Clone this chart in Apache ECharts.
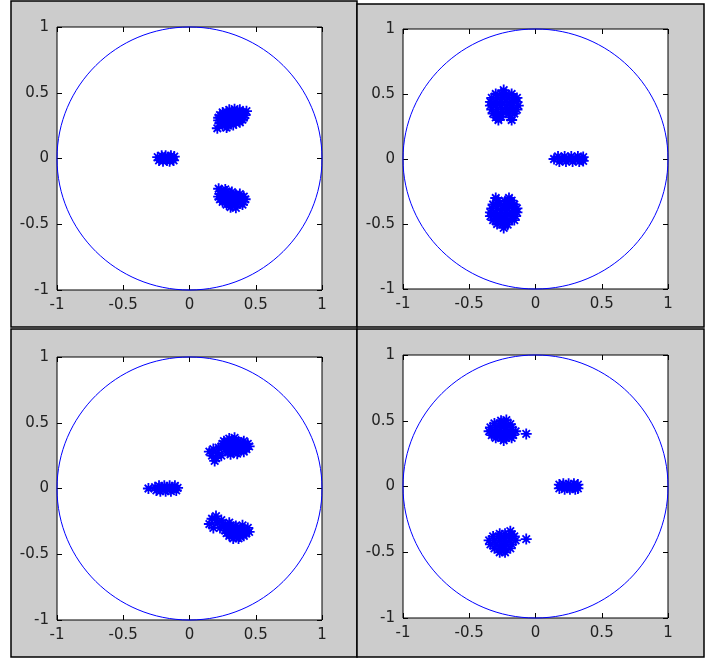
<!DOCTYPE html>
<html>
<head>
<meta charset="utf-8">
<script src="https://cdn.jsdelivr.net/npm/echarts@6/dist/echarts.min.js"></script>
<style>
  html, body { margin: 0; padding: 0; background: #fff; }
  #chart { width: 723px; height: 659px; }
</style>
</head>
<body>
<div id="chart"></div>
<script>
// tick labels shared by every panel
const tickValues = [-1, -0.5, 0, 0.5, 1];

// unit circle: [centre x, centre y, radius]
const unitCircle = [[0, 0, 1]];

// panel 1 (top left)
const panel1Points = [
  // cluster on the real axis
  [-0.24, 0.01], [-0.23, -0.015], [-0.22, 0.0], [-0.21, 0.02], [-0.2, -0.02], [-0.19, 0.0],
  [-0.18, 0.02], [-0.17, -0.015], [-0.16, 0.01], [-0.155, 0.0], [-0.15, -0.02], [-0.14, 0.02],
  [-0.13, 0.0], [-0.12, -0.015], [-0.115, 0.015],
  // upper cluster
  [0.3, 0.37], [0.34, 0.375], [0.38, 0.37],
  [0.25, 0.35], [0.28, 0.355], [0.32, 0.35], [0.36, 0.355], [0.4, 0.35], [0.43, 0.36],
  [0.23, 0.33], [0.27, 0.33], [0.31, 0.335], [0.35, 0.33], [0.39, 0.33], [0.42, 0.33],
  [0.22, 0.31], [0.26, 0.31], [0.3, 0.31], [0.34, 0.31], [0.38, 0.315], [0.41, 0.31],
  [0.22, 0.29], [0.25, 0.29], [0.29, 0.29], [0.33, 0.29], [0.37, 0.29], [0.4, 0.295],
  [0.23, 0.27], [0.27, 0.27], [0.31, 0.27], [0.35, 0.27], [0.38, 0.275],
  [0.25, 0.25], [0.29, 0.25], [0.33, 0.255], [0.21, 0.23], [0.28, 0.235],
  // lower cluster
  [0.22, -0.23], [0.27, -0.235],
  [0.24, -0.25], [0.28, -0.25], [0.32, -0.255],
  [0.23, -0.27], [0.27, -0.27], [0.31, -0.27], [0.35, -0.275], [0.38, -0.27],
  [0.22, -0.29], [0.26, -0.29], [0.3, -0.29], [0.34, -0.29], [0.38, -0.295], [0.41, -0.29],
  [0.23, -0.31], [0.27, -0.31], [0.31, -0.315], [0.35, -0.31], [0.39, -0.31], [0.42, -0.31],
  [0.25, -0.33], [0.29, -0.33], [0.33, -0.335], [0.37, -0.33], [0.41, -0.33],
  [0.28, -0.35], [0.32, -0.355], [0.36, -0.35], [0.4, -0.35],
  [0.31, -0.37], [0.35, -0.375]
];

// panel 2 (top right)
const panel2Points = [
  // upper cluster
  [-0.24, 0.53],
  [-0.3, 0.5], [-0.26, 0.505], [-0.22, 0.5], [-0.18, 0.5],
  [-0.33, 0.47], [-0.29, 0.47], [-0.25, 0.475], [-0.21, 0.47], [-0.17, 0.47], [-0.14, 0.47],
  [-0.34, 0.44], [-0.3, 0.44], [-0.26, 0.44], [-0.22, 0.445], [-0.18, 0.44], [-0.14, 0.44],
  [-0.34, 0.41], [-0.3, 0.41], [-0.26, 0.415], [-0.22, 0.41], [-0.18, 0.41], [-0.13, 0.41],
  [-0.33, 0.38], [-0.29, 0.38], [-0.25, 0.38], [-0.21, 0.385], [-0.17, 0.38], [-0.14, 0.38],
  [-0.32, 0.35], [-0.28, 0.35], [-0.24, 0.355], [-0.2, 0.35], [-0.16, 0.35],
  [-0.3, 0.32], [-0.26, 0.325], [-0.19, 0.32], [-0.28, 0.3], [-0.18, 0.3],
  // lower cluster
  [-0.3, -0.3], [-0.2, -0.3],
  [-0.28, -0.32], [-0.23, -0.325], [-0.18, -0.32],
  [-0.32, -0.35], [-0.28, -0.35], [-0.24, -0.355], [-0.2, -0.35], [-0.16, -0.35],
  [-0.33, -0.38], [-0.29, -0.38], [-0.25, -0.385], [-0.21, -0.38], [-0.17, -0.38], [-0.14, -0.38],
  [-0.34, -0.41], [-0.3, -0.41], [-0.26, -0.41], [-0.22, -0.415], [-0.18, -0.41], [-0.14, -0.41],
  [-0.34, -0.44], [-0.3, -0.44], [-0.26, -0.445], [-0.22, -0.44], [-0.18, -0.44], [-0.15, -0.44],
  [-0.32, -0.47], [-0.28, -0.47], [-0.24, -0.475], [-0.2, -0.47], [-0.16, -0.47],
  [-0.29, -0.5], [-0.25, -0.5], [-0.21, -0.505], [-0.24, -0.53],
  // cluster on the real axis
  [0.14, 0.0], [0.17, 0.02], [0.18, -0.02], [0.2, 0.0], [0.22, 0.02], [0.23, -0.02], [0.25, 0.0],
  [0.27, 0.02], [0.28, -0.02], [0.3, 0.0], [0.32, 0.02], [0.33, -0.02], [0.35, 0.0],
  [0.36, 0.015], [0.36, -0.015]
];

// panel 3 (bottom left)
const panel3Points = [
  // cluster on the real axis
  [-0.31, 0.0], [-0.26, 0.01], [-0.25, -0.015], [-0.23, 0.02], [-0.22, -0.02], [-0.21, 0.0],
  [-0.19, 0.02], [-0.18, -0.02], [-0.17, 0.0], [-0.15, 0.02], [-0.14, -0.02], [-0.13, 0.0],
  [-0.11, 0.02], [-0.1, -0.015], [-0.09, 0.005],
  // upper cluster, small lobe
  [0.15, 0.28], [0.17, 0.25], [0.18, 0.3], [0.2, 0.23], [0.21, 0.27], [0.22, 0.31],
  [0.24, 0.25], [0.19, 0.21],
  // upper cluster, main lobe
  [0.3, 0.38], [0.34, 0.385],
  [0.26, 0.36], [0.29, 0.36], [0.33, 0.365], [0.37, 0.36], [0.41, 0.36],
  [0.25, 0.34], [0.28, 0.34], [0.32, 0.34], [0.36, 0.345], [0.4, 0.34], [0.44, 0.34],
  [0.26, 0.32], [0.3, 0.32], [0.34, 0.32], [0.38, 0.32], [0.42, 0.325], [0.45, 0.32],
  [0.27, 0.3], [0.31, 0.3], [0.35, 0.3], [0.39, 0.305], [0.43, 0.3],
  [0.29, 0.28], [0.33, 0.28], [0.37, 0.28], [0.41, 0.28],
  [0.31, 0.26], [0.36, 0.265],
  // lower cluster, small lobe
  [0.15, -0.27], [0.17, -0.23], [0.18, -0.3], [0.2, -0.21], [0.21, -0.26], [0.23, -0.3],
  [0.24, -0.24], [0.26, -0.28],
  // lower cluster, main lobe
  [0.3, -0.26],
  [0.27, -0.28], [0.31, -0.28], [0.35, -0.285], [0.4, -0.28],
  [0.28, -0.3], [0.32, -0.3], [0.36, -0.3], [0.4, -0.305], [0.44, -0.3],
  [0.27, -0.32], [0.31, -0.32], [0.35, -0.325], [0.39, -0.32], [0.43, -0.32], [0.45, -0.33],
  [0.28, -0.34], [0.32, -0.34], [0.36, -0.345], [0.4, -0.34], [0.43, -0.34],
  [0.3, -0.36], [0.34, -0.36], [0.38, -0.365], [0.41, -0.36],
  [0.33, -0.38], [0.37, -0.38]
];

// panel 4 (bottom right)
const panel4Points = [
  // upper cluster
  [-0.26, 0.5], [-0.22, 0.505],
  [-0.31, 0.48], [-0.27, 0.48], [-0.23, 0.48], [-0.19, 0.475],
  [-0.34, 0.45], [-0.3, 0.45], [-0.26, 0.455], [-0.22, 0.45], [-0.18, 0.45],
  [-0.35, 0.42], [-0.31, 0.42], [-0.27, 0.42], [-0.23, 0.425], [-0.19, 0.42], [-0.15, 0.42],
  [-0.33, 0.39], [-0.29, 0.39], [-0.25, 0.39], [-0.21, 0.395], [-0.17, 0.39],
  [-0.3, 0.37], [-0.26, 0.37], [-0.22, 0.37], [-0.18, 0.37], [-0.24, 0.35],
  [-0.07, 0.4],
  // lower cluster
  [-0.19, -0.34],
  [-0.27, -0.36], [-0.23, -0.36], [-0.18, -0.365],
  [-0.32, -0.38], [-0.28, -0.38], [-0.24, -0.385], [-0.2, -0.38], [-0.16, -0.38],
  [-0.35, -0.41], [-0.31, -0.41], [-0.27, -0.41], [-0.23, -0.415], [-0.19, -0.41], [-0.15, -0.41],
  [-0.34, -0.44], [-0.3, -0.44], [-0.26, -0.445], [-0.22, -0.44], [-0.18, -0.44],
  [-0.31, -0.47], [-0.27, -0.47], [-0.23, -0.475], [-0.19, -0.47],
  [-0.27, -0.5], [-0.23, -0.5],
  [-0.07, -0.4],
  // cluster on the real axis
  [0.18, 0.015], [0.18, -0.015], [0.2, 0.0], [0.21, 0.02], [0.22, -0.02], [0.24, 0.0],
  [0.25, 0.02], [0.26, -0.02], [0.28, 0.0], [0.29, 0.02], [0.3, -0.02],
  [0.32, 0.015], [0.32, -0.015]
];

const panelPoints = [panel1Points, panel2Points, panel3Points, panel4Points];

// plot boxes (pixels) and grey frames
const plotBoxes = [
  { left: 57, top: 27, width: 265, height: 263 },
  { left: 403, top: 29, width: 265, height: 260 },
  { left: 57, top: 357, width: 265, height: 263 },
  { left: 403, top: 355, width: 265, height: 263 }
];
const frames = [
  [11, 1, 346, 326],
  [357, 4, 347, 323],
  [11, 329, 346, 328],
  [357, 329, 347, 328]
];

const blue = "#0000ff";
const starPath = "path://M5,0L5,10M0,5L10,5M1.6,1.6L8.4,8.4M8.4,1.6L1.6,8.4";
const labelStyle = { color: "#222", fontSize: 15, fontFamily: "DejaVu Sans, sans-serif" };

const chart = echarts.init(document.getElementById("chart"));

const grid = [];
const xAxis = [];
const yAxis = [];
const series = [];

plotBoxes.forEach((box, i) => {
  grid.push({
    ...box,
    show: true,
    backgroundColor: "#fff",
    borderColor: "#000",
    borderWidth: 1
  });
  // bottom / top axis
  ["bottom", "top"].forEach((pos) => {
    xAxis.push({
      type: "value",
      gridIndex: i,
      position: pos,
      min: tickValues[0],
      max: tickValues[tickValues.length - 1],
      interval: 0.5,
      splitLine: { show: false },
      axisLine: { show: false, onZero: false },
      axisTick: { show: true, inside: true, length: 5, lineStyle: { color: "#000" } },
      axisLabel: pos === "bottom" ? { ...labelStyle, margin: 8, showMinLabel: true, showMaxLabel: true } : { show: false }
    });
  });
  // left / right axis
  ["left", "right"].forEach((pos) => {
    yAxis.push({
      type: "value",
      gridIndex: i,
      position: pos,
      min: tickValues[0],
      max: tickValues[tickValues.length - 1],
      interval: 0.5,
      splitLine: { show: false },
      axisLine: { show: false, onZero: false },
      axisTick: { show: true, inside: true, length: 5, lineStyle: { color: "#000" } },
      axisLabel: pos === "left" ? { ...labelStyle, margin: 8, showMinLabel: true, showMaxLabel: true } : { show: false }
    });
  });

  // unit circle
  series.push({
    type: "custom",
    xAxisIndex: i * 2,
    yAxisIndex: i * 2,
    data: unitCircle,
    silent: true,
    renderItem: (params, api) => {
      const c = api.coord([api.value(0), api.value(1)]);
      const s = api.size([api.value(2), api.value(2)]);
      return {
        type: "ellipse",
        shape: { cx: c[0], cy: c[1], rx: s[0], ry: s[1] },
        style: { fill: null, stroke: blue, lineWidth: 1 }
      };
    }
  });

  // asterisk markers
  series.push({
    type: "scatter",
    xAxisIndex: i * 2,
    yAxisIndex: i * 2,
    data: panelPoints[i],
    symbol: starPath,
    symbolSize: 11,
    silent: true,
    itemStyle: { color: "transparent", borderColor: blue, borderWidth: 1.8, opacity: 1 }
  });
});

const graphic = frames.map((f) => ({
  type: "rect",
  z: -10,
  shape: { x: f[0], y: f[1], width: f[2], height: f[3] },
  style: { fill: "#cccccc", stroke: "#000", lineWidth: 1.5 }
}));

chart.setOption({
  animation: false,
  backgroundColor: "#fff",
  graphic,
  grid,
  xAxis,
  yAxis,
  series
});
</script>
</body>
</html>
